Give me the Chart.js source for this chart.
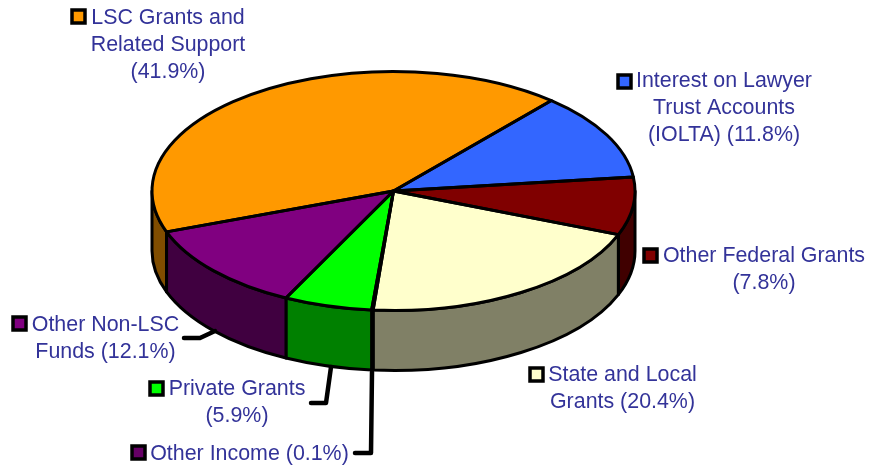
<!DOCTYPE html>
<html>
<head>
<meta charset="utf-8">
<style>html,body{margin:0;padding:0;background:#fff}canvas{display:block}</style>
<script src="https://cdn.jsdelivr.net/npm/chart.js@4"></script>
</head>
<body>
<canvas id="c" width="869" height="466"></canvas>
<script>
const categories = ["LSC Grants and Related Support","Interest on Lawyer Trust Accounts (IOLTA)","Other Federal Grants","State and Local Grants","Other Income","Private Grants","Other Non-LSC Funds"];
const values = [41.9,11.8,7.8,20.4,0.1,5.9,12.1];
const topColors = ["#FF9900","#3366FF","#800000","#FFFFCC","#660066","#00FF00","#800080"];
const wallColors = ["#804D00","#1A3380","#400000","#808066","#330033","#008000","#400040"];
const labelLines = [
  ["LSC Grants and","Related Support","(41.9%)"],
  ["Interest on Lawyer","Trust Accounts","(IOLTA) (11.8%)"],
  ["Other Federal Grants","(7.8%)"],
  ["State and Local","Grants (20.4%)"],
  ["Other Income (0.1%)"],
  ["Private Grants","(5.9%)"],
  ["Other Non-LSC","Funds (12.1%)"]
];
// Label layout (centre x, first baseline, swatch x, swatch y)
const labelLayout = [
  [168,24,72,10],[724,87,618,75],[764,262,644,249],[622.5,381,530,368],
  [249.5,460,132,446],[237,395,150,382],[105.5,331,13,317]
];
const leaders = [
  [[184,338],[200,338],[215,331]],
  [[311,403],[326,403],[331,367]],
  [[355,453],[371,453],[372,372]]
];
const squash = 0.495, depth = 60;
const ink = "#000", textColor = "#333399";

function arcs(chart){
  return chart.getDatasetMeta(0).data.map(el => el.getProps(["x","y","startAngle","endAngle","outerRadius"],true));
}
const pie3d = {
  id:"pie3d",
  beforeDatasetsDraw(chart){
    const ctx = chart.ctx, TAU = Math.PI*2;
    ctx.save();
    ctx.lineWidth = 3; ctx.strokeStyle = ink; ctx.lineJoin = "round";
    arcs(chart).forEach((a,i)=>{
      for(let k=-2;k<=2;k++){
        const s = Math.max(a.startAngle+k*TAU,0), e = Math.min(a.endAngle+k*TAU,Math.PI);
        if(e<=s) continue;
        const R=a.outerRadius, r=R*squash;
        ctx.beginPath();
        ctx.ellipse(a.x,a.y,R,r,0,s,e,false);
        ctx.ellipse(a.x,a.y+depth,R,r,0,e,s,true);
        ctx.closePath();
        ctx.fillStyle = wallColors[i];
        ctx.fill(); ctx.stroke();
      }
    });
    ctx.restore();
    const f = arcs(chart)[0];
    ctx.save();
    ctx.translate(f.x,f.y); ctx.scale(1,squash); ctx.translate(-f.x,-f.y);
  },
  afterDatasetsDraw(chart){
    const ctx = chart.ctx;
    ctx.restore();
    ctx.save();
    ctx.lineWidth = 3; ctx.strokeStyle = ink; ctx.lineJoin = "round";
    arcs(chart).forEach(a=>{
      ctx.beginPath();
      ctx.moveTo(a.x,a.y);
      ctx.ellipse(a.x,a.y,a.outerRadius,a.outerRadius*squash,0,a.startAngle,a.endAngle,false);
      ctx.closePath();
      ctx.stroke();
    });
    ctx.lineWidth = 4.5; ctx.lineCap = "round";
    leaders.forEach(p=>{
      ctx.beginPath();
      p.forEach((q,i)=> i?ctx.lineTo(q[0],q[1]):ctx.moveTo(q[0],q[1]));
      ctx.stroke();
    });
    ctx.font = '21.4px "Liberation Sans", Arial, sans-serif';
    ctx.textAlign = "center"; ctx.textBaseline = "alphabetic";
    labelLines.forEach((lines,i)=>{
      const [cx,by,sx,sy] = labelLayout[i];
      ctx.fillStyle = topColors[i];
      ctx.fillRect(sx,sy,13,13);
      ctx.lineWidth = 3.5; ctx.lineCap = "butt"; ctx.lineJoin = "miter";
      ctx.strokeRect(sx,sy,13,13);
      ctx.fillStyle = textColor;
      lines.forEach((t,j)=>ctx.fillText(t,cx,by+j*27));
    });
    ctx.restore();
  }
};
new Chart(document.getElementById("c"),{
  type:"pie",
  data:{labels:categories,datasets:[{data:values,backgroundColor:topColors,borderWidth:0,clip:false}]},
  options:{
    responsive:false,animation:false,
    rotation:-110,radius:241.5,
    layout:{padding:{left:0,top:0,right:82,bottom:84}},
    plugins:{legend:{display:false},tooltip:{enabled:false}}
  },
  plugins:[pie3d]
});
</script>
</body>
</html>
